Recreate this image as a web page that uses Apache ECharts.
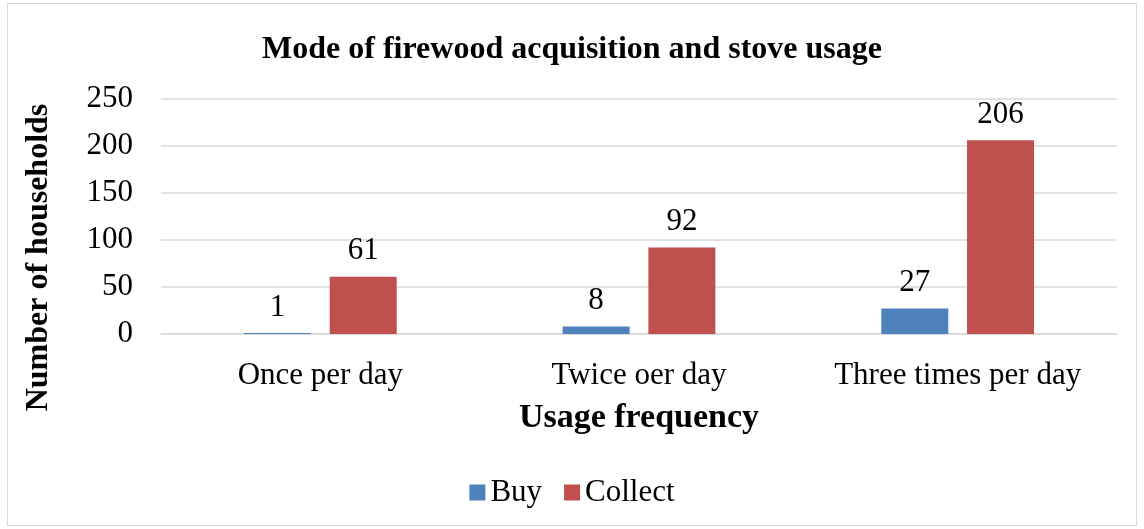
<!DOCTYPE html>
<html>
<head>
<meta charset="utf-8">
<script src="https://cdn.jsdelivr.net/npm/echarts@6/dist/echarts.min.js"></script>
<style>
  html, body { margin: 0; padding: 0; background: #fff; }
  #chart { position: absolute; left: 7px; top: 3px; width: 1130px; height: 523px; border: 1px solid #d9d9d9; box-sizing: border-box; }
</style>
</head>
<body>
<div id="chart"></div>
<script>
var categories = ['Once per day', 'Twice oer day', 'Three times per day']
var buyValues = [1, 8, 27]
var collectValues = [61, 92, 206]
var yTicks = [0, 50, 100, 150, 200, 250]

var font = '"Liberation Serif", "Times New Roman", serif'
var chart = echarts.init(document.getElementById('chart'))
var option = {
  textStyle: { fontFamily: font },
  title: {
    text: 'Mode of firewood acquisition and stove usage',
    left: 'center',
    top: 25,
    textStyle: { fontFamily: font, fontSize: 32, fontWeight: 'bold', color: '#000' }
  },
  legend: {
    bottom: 12,
    left: 'center',
    icon: 'rect',
    itemWidth: 16,
    itemHeight: 16,
    itemGap: 22,
    textStyle: { fontFamily: font, fontSize: 31, color: '#000' },
    data: ['Buy', 'Collect']
  },
  grid: { left: 153, right: 19, top: 95, bottom: 191 },
  xAxis: {
    type: 'category',
    data: categories,
    name: 'Usage frequency',
    nameLocation: 'middle',
    nameGap: 67,
    nameTextStyle: { fontFamily: font, fontSize: 34, fontWeight: 'bold', color: '#000' },
    axisLine: { lineStyle: { color: '#d9d9d9', width: 1.5 } },
    axisTick: { show: false },
    axisLabel: { interval: 0, fontFamily: font, fontSize: 31, color: '#000', margin: 26 }
  },
  yAxis: {
    type: 'value',
    min: yTicks[0],
    max: yTicks[yTicks.length - 1],
    interval: 50,
    name: 'Number of households',
    nameLocation: 'middle',
    nameGap: 106,
    // 名称整体下移，与原图对齐
    nameTextStyle: { fontFamily: font, fontSize: 32, fontWeight: 'bold', color: '#000', padding: [0, 82, 0, 0] },
    axisLine: { show: false },
    axisTick: { show: false },
    axisLabel: { fontFamily: font, fontSize: 31, color: '#000', margin: 28 },
    splitLine: { lineStyle: { color: '#d9d9d9', width: 1.5 } }
  },
  series: [
    {
      name: 'Buy',
      type: 'bar',
      data: buyValues,
      barWidth: 67,
      barGap: '28%',
      itemStyle: { color: '#4f81bd' },
      label: { show: true, position: 'top', distance: 10, fontFamily: font, fontSize: 31, color: '#000' }
    },
    {
      name: 'Collect',
      type: 'bar',
      data: collectValues,
      barWidth: 67,
      barGap: '28%',
      itemStyle: { color: '#c0504d' },
      label: { show: true, position: 'top', distance: 10, fontFamily: font, fontSize: 31, color: '#000' }
    }
  ]
}
chart.setOption(option)
</script>
</body>
</html>
